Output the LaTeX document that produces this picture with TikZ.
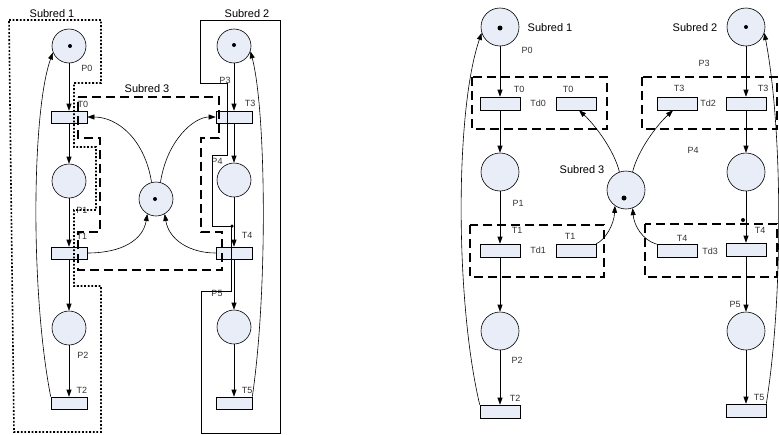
\documentclass[tikz,border=0pt]{standalone}
\usepackage{fontspec}
\setmainfont{Liberation Sans}
\usetikzlibrary{arrows.meta}
\definecolor{pfill}{RGB}{233,237,247}
\begin{document}
\begin{tikzpicture}[x=1pt,y=-1pt,
 placeL/.style={circle,draw,fill=pfill,minimum size=34pt,inner sep=0pt,line width=0.6pt},
 placeR/.style={placeL,minimum size=38pt},
 transL/.style={rectangle,draw,fill=pfill,minimum width=36pt,minimum height=12pt,inner sep=0pt,line width=0.6pt},
 transR/.style={transL,minimum width=40pt,minimum height=13pt},
 lab/.style={font=\fontsize{9}{10}\selectfont,inner sep=0pt,text=black!80},
 sub/.style={font=\fontsize{11}{12}\selectfont,inner sep=0pt},
 arc/.style={-{Triangle[length=7pt,width=5pt]},line width=0.6pt},
 tok/.style={circle,fill=black,inner sep=0pt,minimum size=4pt},
 dotbox/.style={line width=1.6pt,dash pattern=on 1.8pt off 1.8pt},
 dashbox/.style={line width=1.5pt,dash pattern=on 9pt off 5pt},
 solbox/.style={line width=0.7pt},
]
\useasboundingbox (0,0) rectangle (779,434);
% ---------- left net: nodes
\node[placeL] (lP0) at (69,46) {};
\node[tok] (lP0t) at (70,46) {};
\node[transL] (lT0) at (69,117) {};
\node[placeL] (lP1) at (69,181) {};
\node[transL] (lT1) at (69,253) {};
\node[placeL] (lP2) at (69,328) {};
\node[transL] (lT2) at (69,403) {};
\node[placeL] (lP3) at (234,46) {};
\node[tok] (lP3t) at (234,45) {};
\node[transL] (lT3) at (234,117) {};
\node[placeL] (lP4) at (234,180) {};
\node[transL] (lT4) at (234,253) {};
\node[placeL] (lP5) at (234,327) {};
\node[transL] (lT5) at (234,403) {};
\node[placeL] (lS3) at (156,199) {};
\node[tok] (lS3t) at (155,199) {};
% left labels
\node[sub] (lsub1) at (52,14) {Subred 1};
\node[sub] (lsub2) at (247,14) {Subred 2};
\node[sub] (lsub3) at (147,89) {Subred 3};
\node[lab] (llP0) at (87,68) {P0};
\node[lab] (llT0) at (83,104) {T0};
\node[lab] (llP1) at (82,210) {P1};
\node[lab] (llT1) at (82,236) {T1};
\node[lab] (llP2) at (83,355) {P2};
\node[lab] (llT2) at (82,390) {T2};
\node[lab] (llP3) at (225,80) {P3};
\node[lab] (llT3) at (250,103) {T3};
\node[lab] (llP4) at (217,161) {P4};
\node[lab] (llT4) at (247,235) {T4};
\node[lab] (llP5) at (217,293) {P5};
\node[lab] (llT5) at (247,390) {T5};
% left boxes
\draw[dotbox] (9,20) -- (101,20) -- (101,83) -- (74,83) -- (74,147) -- (96,147) -- (96,210) -- (74,210) -- (74,286) -- (101,286) -- (101,432) -- (14,432) -- cycle;
\draw[solbox] (200,20) -- (280,20) -- (280,433) -- (201,433) -- (201,291) -- (231,291) -- (231,226) -- (212,226) -- (212,155) -- (227,155) -- (227,83) -- (200,83) -- cycle;
\draw[dashbox] (78,97) -- (219,97) -- (219,138) -- (201,138) -- (201,232) -- (222,232) -- (222,270) -- (78,270) -- (78,232) -- (100,232) -- (100,138) -- (78,138) -- cycle;
% left arcs
\draw[arc] (lP0) -- (lT0);
\draw[arc] (lT0) -- (lP1);
\draw[arc] (lP1) -- (lT1);
\draw[arc] (lT1) -- (lP2);
\draw[arc] (lP2) -- (lT2);
\draw[arc] (lT2.north west) .. controls (30,290) and (32,110) .. (lP0.202);
\draw[arc] (lP3) -- (lT3);
\draw[arc] (lT3) -- (lP4);
\draw[arc] (lP4) -- (lT4);
\draw[arc] (lT4) -- (lP5);
\draw[arc] (lP5) -- (lT5);
\draw[arc] (lT5.north east) .. controls (268,290) and (266,110) .. (lP3.-18);
\draw[arc] (lS3.105) .. controls (145,140) and (118,117) .. (lT0.east);
\draw[arc] (lS3.75) .. controls (167,140) and (194,117) .. (lT3.west);
\draw[arc] (lT1.east) .. controls (122,253) and (143,240) .. (lS3.240);
\draw[arc] (lT4.west) .. controls (190,253) and (169,240) .. (lS3.300);
\node[tok,minimum size=3.5pt] (ldot) at (232,226) {};
% ---------- right net: nodes
\node[placeR] (rP0) at (500,27) {};
\node[tok,minimum size=5pt] (rP0t) at (500,28) {};
\node[transR] (rT0) at (500,103.5) {};
\node[transR] (rT0c) at (576,103.5) {};
\node[placeR] (rP1) at (500,172) {};
\node[transR] (rT1) at (500,250.5) {};
\node[transR] (rT1c) at (576,250.5) {};
\node[placeR] (rP2) at (500,331) {};
\node[transR] (rT2) at (500,411.5) {};
\node[placeR] (rP3) at (746,27) {};
\node[tok,minimum size=4pt] (rP3t) at (746,27) {};
\node[transR] (rT3c) at (677,103.5) {};
\node[transR] (rT3) at (746,103.5) {};
\node[placeR] (rP4) at (746,172) {};
\node[transR] (rT4c) at (677,251) {};
\node[transR] (rT4) at (746,249.5) {};
\node[placeR] (rP5) at (746,331) {};
\node[transR] (rT5) at (746,410.5) {};
\node[placeR] (rS3) at (626,190) {};
\node[tok,minimum size=5pt] (rS3t) at (624,198) {};
% right labels
\node[sub] (rsub1) at (550,28) {Subred 1};
\node[sub] (rsub2) at (695,28) {Subred 2};
\node[sub] (rsub3) at (582,170) {Subred 3};
\node[lab] (rlP0) at (527,50) {P0};
\node[lab] (rlT0) at (519,89) {T0};
\node[lab] (rlTd0) at (538,103) {Td0};
\node[lab] (rlT0c) at (568,89) {T0};
\node[lab] (rlP1) at (518,203) {P1};
\node[lab] (rlT1) at (517,230) {T1};
\node[lab] (rlTd1) at (538,250) {Td1};
\node[lab] (rlT1c) at (570,236) {T1};
\node[lab] (rlP2) at (517,360) {P2};
\node[lab] (rlT2) at (515,398) {T2};
\node[lab] (rlP3) at (704,63) {P3};
\node[lab] (rlT3c) at (679,88) {T3};
\node[lab] (rlTd2) at (708,103) {Td2};
\node[lab] (rlT3) at (763,88) {T3};
\node[lab] (rlP4) at (693,150) {P4};
\node[lab] (rlT4c) at (682,238) {T4};
\node[lab] (rlTd3) at (710,251) {Td3};
\node[lab] (rlT4) at (760,230) {T4};
\node[lab] (rlP5) at (735,304) {P5};
\node[lab] (rlT5) at (759,397) {T5};
% right boxes
\draw[dashbox] (472,77) rectangle (607,129);
\draw[dashbox] (470,225) rectangle (604,277);
\draw[dashbox] (642,77) rectangle (777,129);
\draw[dashbox] (645,224) rectangle (777,277);
% right arcs
\draw[arc] (rP0) -- (rT0);
\draw[arc] (rT0) -- (rP1);
\draw[arc] (rP1) -- (rT1);
\draw[arc] (rT1) -- (rP2);
\draw[arc] (rP2) -- (rT2);
\draw[arc] (rT2.north west) .. controls (455,300) and (455,110) .. (rP0.198);
\draw[arc] (rP3) -- (rT3);
\draw[arc] (rT3) -- (rP4);
\draw[arc] (rP4) -- (rT4);
\draw[arc] (rT4) -- (rP5);
\draw[arc] (rP5) -- (rT5);
\draw[arc] (rT5.north east) .. controls (783,300) and (783,130) .. (rP3.-18);
\draw[arc] (rS3.110) .. controls (614,150) and (595,125) .. ([xshift=3pt]rT0c.south);
\draw[arc] (rS3.70) .. controls (638,150) and (657,125) .. ([xshift=-4pt]rT3c.south);
\draw[arc] (rT1c.north east) .. controls (605,240) and (614,225) .. (rS3.235);
\draw[arc] (rT4c.north west) .. controls (642,240) and (634,225) .. (rS3.290);
\node[tok,minimum size=4pt] (rdot) at (743,220) {};
\end{tikzpicture}
\end{document}
